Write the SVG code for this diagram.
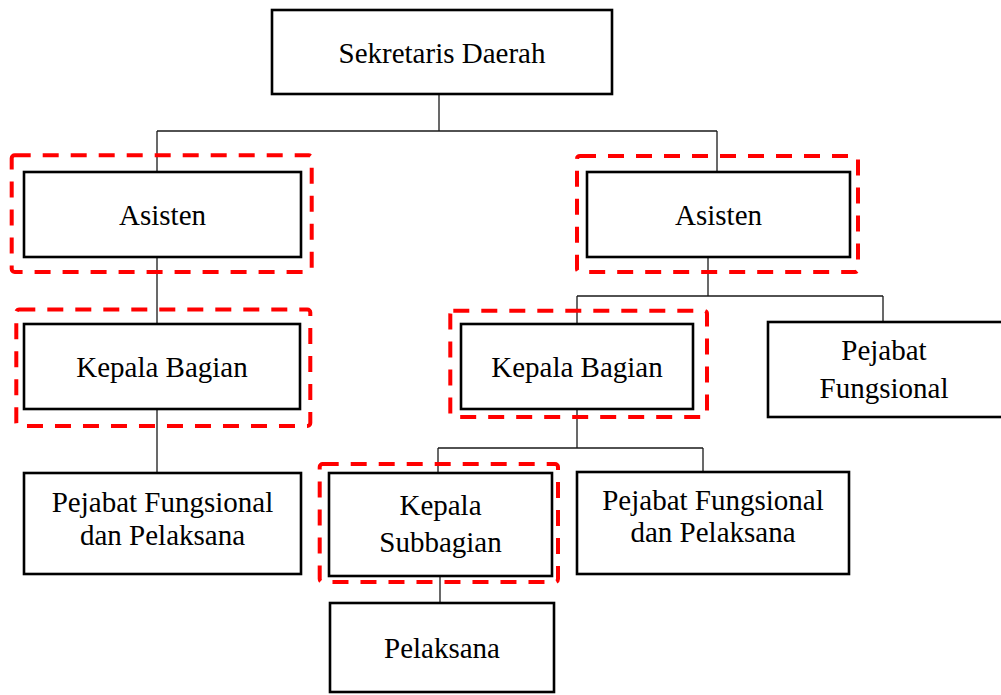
<svg xmlns="http://www.w3.org/2000/svg" width="1001" height="695" viewBox="0 0 1001 695">
  <style>
    .box { fill: #ffffff; stroke: #000000; stroke-width: 2.6; }
    .hl { fill: none; stroke: #ff0000; stroke-width: 4; stroke-dasharray: 16 12; }
    .lbl { font-family: 'Liberation Serif', 'Times New Roman', serif; font-size: 29px; fill: #000000; text-anchor: middle; }
    .conn { fill: none; stroke: #1a1a1a; stroke-width: 1.3; }
  </style>
  <rect width="1001" height="695" fill="#ffffff"/>

  <!-- connectors -->
  <g id="connectors" class="conn">
    <path d="M439,94 V131 M157,131 H717 M157,131 V172 M717,131 V172"/>
    <path d="M157,257 V324 M157,409 V473"/>
    <path d="M708,257 V296 M577,296 H883 M577,296 V324 M883,296 V322"/>
    <path d="M577,409 V448 M438,448 H703 M438,448 V473 M703,448 V472"/>
    <path d="M440,576 V603"/>
  </g>

  <g id="sekretaris-daerah">
    <rect class="box" x="272" y="10" width="340" height="84"/>
    <text class="lbl" x="442" y="63">Sekretaris Daerah</text>
  </g>

  <g id="asisten-kiri">
    <rect class="box" x="24" y="172" width="277" height="85"/>
    <text class="lbl" x="162.5" y="225">Asisten</text>
    <rect class="hl" x="11.7" y="155.3" width="300" height="116.7" rx="3"/>
  </g>

  <g id="asisten-kanan">
    <rect class="box" x="587" y="172" width="263" height="85"/>
    <text class="lbl" x="718.5" y="225">Asisten</text>
    <rect class="hl" x="577" y="156" width="281" height="116" rx="3"/>
  </g>

  <g id="kepala-bagian-kiri">
    <rect class="box" x="24" y="324" width="276" height="85"/>
    <text class="lbl" x="162" y="377">Kepala Bagian</text>
    <rect class="hl" x="16.3" y="309.5" width="294" height="116.5" rx="3"/>
  </g>

  <g id="kepala-bagian-kanan">
    <rect class="box" x="461" y="324" width="232" height="85"/>
    <text class="lbl" x="577" y="377">Kepala Bagian</text>
    <rect class="hl" x="450.3" y="310.7" width="256.7" height="106.3" rx="3"/>
  </g>

  <g id="pejabat-fungsional">
    <rect class="box" x="768" y="322" width="235" height="95"/>
    <text class="lbl" x="884" y="360">Pejabat</text>
    <text class="lbl" x="884" y="398">Fungsional</text>
  </g>

  <g id="pejabat-fungsional-pelaksana-kiri">
    <rect class="box" x="24" y="473" width="277" height="101"/>
    <text class="lbl" x="162.5" y="512">Pejabat Fungsional</text>
    <text class="lbl" x="162.5" y="545">dan Pelaksana</text>
  </g>

  <g id="kepala-subbagian">
    <rect class="box" x="329" y="473" width="223" height="103"/>
    <text class="lbl" x="440.5" y="515">Kepala</text>
    <text class="lbl" x="440.5" y="552">Subbagian</text>
    <rect class="hl" x="319.7" y="464" width="238.3" height="118" rx="3"/>
  </g>

  <g id="pejabat-fungsional-pelaksana-kanan">
    <rect class="box" x="577" y="472" width="272" height="102"/>
    <text class="lbl" x="713" y="510">Pejabat Fungsional</text>
    <text class="lbl" x="713" y="542">dan Pelaksana</text>
  </g>

  <g id="pelaksana">
    <rect class="box" x="330" y="603" width="224" height="89"/>
    <text class="lbl" x="442" y="658">Pelaksana</text>
  </g>
</svg>
